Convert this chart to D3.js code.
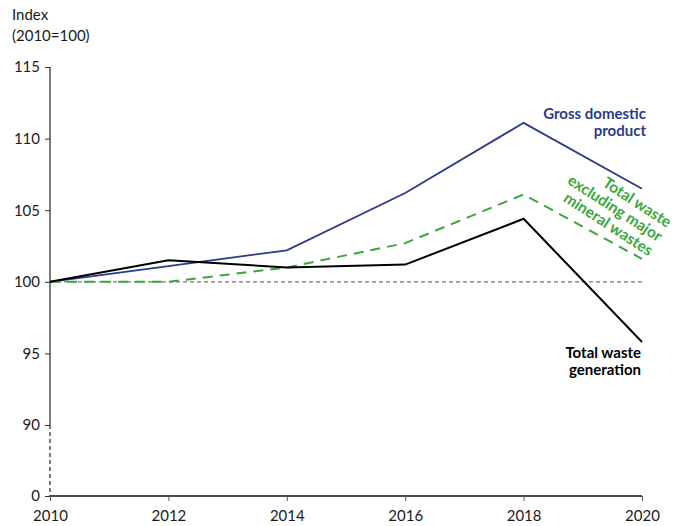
<!DOCTYPE html>
<html><head><meta charset="utf-8">
<script src="https://cdn.jsdelivr.net/npm/d3@7/dist/d3.min.js"></script>
<style>body{margin:0;background:#fff;} text{font-family:Lato,"Open Sans",sans-serif;}</style>
</head><body><svg id="c" width="682" height="526"></svg>
<script>
const years = [2010, 2012, 2014, 2016, 2018, 2020];
const gdp = [100, 101.1, 102.2, 106.2, 111.1, 106.5];
const wasteExclMineral = [100, 100, 101.0, 102.7, 106.1, 101.6];
const totalWaste = [100, 101.5, 101.0, 101.2, 104.4, 95.8];
const yTicks = [0, 90, 95, 100, 105, 110, 115];
const xTicks = [2010, 2012, 2014, 2016, 2018, 2020];

const svg = d3.select("#c");
const x = d3.scaleLinear().domain([2010, 2020]).range([50, 642]);
const y = d3.scaleLinear().domain([0, 90, 115]).range([496, 425, 67]);

// axes
const yAxis = svg.append("g").attr("transform", "translate(50,0)")
  .call(d3.axisLeft(y).tickValues(yTicks).tickSize(5).tickPadding(5));
yAxis.select(".domain").remove();
yAxis.selectAll("text").attr("font-size", 15).attr("fill", "#1a1a1a").style("font-family", "Lato");
yAxis.selectAll("line").attr("stroke", "#333");
svg.append("line").attr("x1", 50).attr("x2", 50).attr("y1", y(115)).attr("y2", y(90))
  .attr("stroke", "#222").attr("stroke-width", 1.2);
svg.append("line").attr("x1", 50).attr("x2", 50).attr("y1", y(90)).attr("y2", y(0))
  .attr("stroke", "#222").attr("stroke-width", 1.2).attr("stroke-dasharray", "4,3");

const xAxis = svg.append("g").attr("transform", `translate(0,${y(0)})`)
  .call(d3.axisBottom(x).tickValues(xTicks).tickFormat(d3.format("d")).tickSize(5).tickPadding(9));
xAxis.select(".domain").attr("stroke", "#111").attr("stroke-width", 1.3).attr("d", `M50,0H642`);
xAxis.selectAll("line").attr("stroke", "#555");
xAxis.selectAll("text").attr("font-size", 15).attr("fill", "#1a1a1a").style("font-family", "Lato");

// reference line
svg.append("line").attr("x1", x(2010)).attr("x2", x(2020)).attr("y1", y(100)).attr("y2", y(100))
  .attr("stroke", "#777").attr("stroke-width", 1.2).attr("stroke-dasharray", "4,3");

const line = d3.line().x((d, i) => x(years[i])).y(d => y(d));
svg.append("path").datum(gdp).attr("d", line).attr("fill", "none").attr("stroke", "#2b3a8c").attr("stroke-width", 1.8);
svg.append("path").datum(wasteExclMineral).attr("d", line).attr("fill", "none").attr("stroke", "#3aa83a").attr("stroke-width", 2).attr("stroke-dasharray", "10,7");
svg.append("path").datum(totalWaste).attr("d", line).attr("fill", "none").attr("stroke", "#000").attr("stroke-width", 2);

// title
svg.append("text").attr("x", 12).attr("y", 20).attr("font-size", 15).attr("fill", "#1a1a1a").text("Index");
svg.append("text").attr("x", 12).attr("y", 41).attr("font-size", 15).attr("fill", "#1a1a1a").text("(2010=100)");

// labels
function multi(xp, yp, lines, color, lh, anchor, rot, fs) {
  const g = svg.append("g").attr("transform", `translate(${xp},${yp}) rotate(${rot || 0})`);
  const t = g.append("text").attr("text-anchor", anchor).attr("font-size", fs || 15).attr("font-weight", 700).attr("fill", color);
  lines.forEach((l, i) => t.append("tspan").attr("x", 0).attr("y", i * lh).text(l));
}
multi(646, 119, ["Gross domestic", "product"], "#2b3a8c", 17, "end");
multi(641, 358, ["Total waste", "generation"], "#000", 17, "end");
multi(667, 228, ["Total waste", "excluding major", "mineral wastes"], "#3aa83a", 17, "end", 33, 15.5);
</script></body></html>
